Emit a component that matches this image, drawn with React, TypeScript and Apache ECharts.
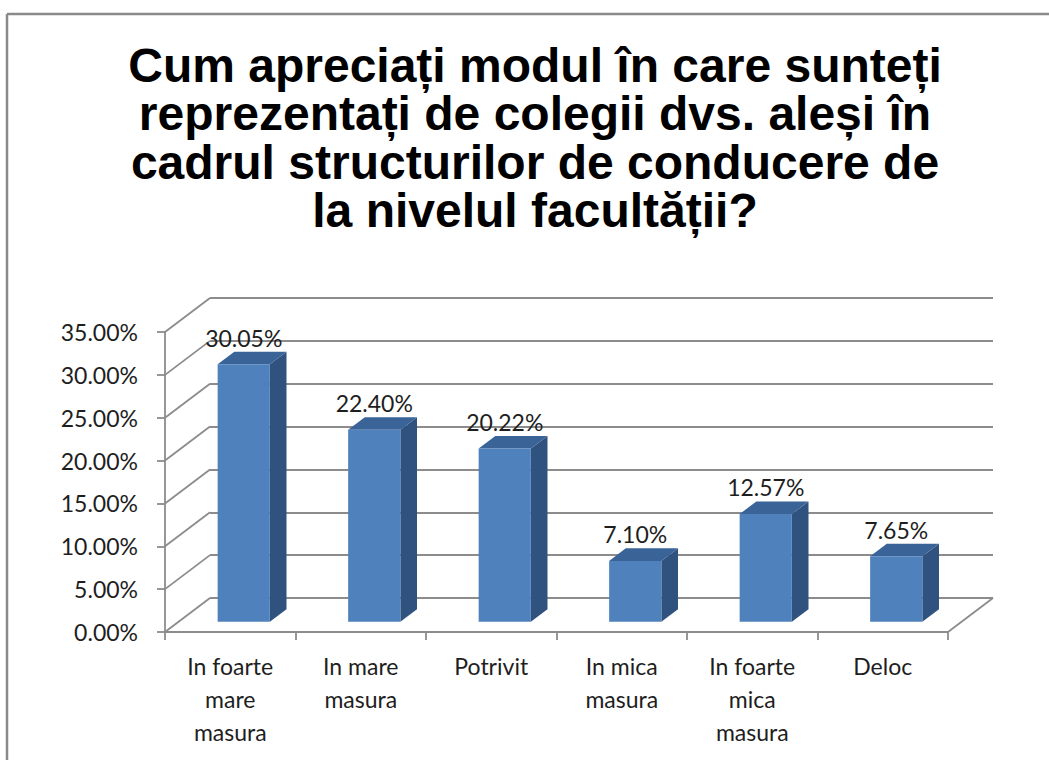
import React, { useEffect, useRef } from "react";
import * as echarts from "echarts";

const titleLines = [
  "Cum apreciați modul în care sunteți",
  "reprezentați de colegii dvs. aleși în",
  "cadrul structurilor de conducere de",
  "la nivelul facultății?",
];
const categories = [
  "In foarte\nmare\nmasura",
  "In mare\nmasura",
  "Potrivit",
  "In mica\nmasura",
  "In foarte\nmica\nmasura",
  "Deloc",
];
const values = [30.05, 22.4, 20.22, 7.1, 12.57, 7.65];
const yTicks = [0, 5, 10, 15, 20, 25, 30, 35];

const DX = 45;
const DY = -34;
const GRID_COLOR = "#8c8c8c";
const TEXT_COLOR = "#1e1e1e";
const LABEL_FONT = "Lato";

export default function App() {
  const ref = useRef<HTMLDivElement>(null);
  useEffect(() => {
    if (!ref.current) return;
    const chart = echarts.init(ref.current, undefined, { renderer: "svg" });
    const option: any = {
      animation: false,
      backgroundColor: "#ffffff",
      grid: [
        { left: 165, top: 332, width: 783, height: 300 },
        { left: 165 + DX, top: 332 + DY, width: 783, height: 300 },
      ],
      xAxis: [
        {
          type: "category",
          gridIndex: 0,
          data: categories,
          boundaryGap: true,
          axisLine: { show: true, lineStyle: { color: GRID_COLOR, width: 1.8 } },
          axisTick: { show: true, length: 8, lineStyle: { color: GRID_COLOR, width: 1.8 } },
          axisLabel: {
            interval: 0,
            margin: 17,
            fontSize: 23,
            lineHeight: 33,
            fontFamily: LABEL_FONT,
            color: TEXT_COLOR,
          },
          splitLine: { show: false },
        },
        {
          type: "category",
          gridIndex: 1,
          data: categories,
          show: false,
        },
      ],
      yAxis: [
        {
          type: "value",
          gridIndex: 0,
          min: 0,
          max: 35,
          interval: 5,
          axisLine: { show: true, lineStyle: { color: GRID_COLOR, width: 1.8 } },
          axisTick: { show: true, length: 8, lineStyle: { color: GRID_COLOR, width: 1.8 } },
          axisLabel: {
            margin: 27,
            fontSize: 23,
            fontFamily: LABEL_FONT,
            color: TEXT_COLOR,
            formatter: (v: number) => v.toFixed(2) + "%",
          },
          splitLine: { show: false },
        },
        {
          type: "value",
          gridIndex: 1,
          min: 0,
          max: 35,
          interval: 5,
          axisLine: { show: false },
          axisTick: { show: false },
          axisLabel: { show: false },
          splitLine: { show: true, lineStyle: { color: GRID_COLOR, width: 1.8 } },
        },
      ],
      graphic: [
        {
          type: "line",
          shape: { x1: 7, y1: 14, x2: 1049, y2: 14 },
          style: { stroke: "#8a8a8a", lineWidth: 2.5 },
        },
        {
          type: "line",
          shape: { x1: 7, y1: 14, x2: 7, y2: 760 },
          style: { stroke: "#8a8a8a", lineWidth: 2.5 },
        },
        {
          type: "text",
          x: 535,
          y: 41,
          style: {
            text: titleLines.join("\n"),
            fontFamily: "Liberation Sans",
            fontWeight: "bold",
            fontSize: 48,
            lineHeight: 48.5,
            align: "center",
            verticalAlign: "top",
            fill: "#000000",
          },
        },
      ],
      series: [
        {
          type: "custom",
          name: "walls",
          xAxisIndex: 0,
          yAxisIndex: 0,
          silent: true,
          clip: false,
          z: 1,
          data: yTicks.map((v) => [0, v]),
          renderItem: (params: any, api: any) => {
            const p = api.coord([0, api.value(1)]);
            const bw = api.size([1, 0])[0];
            const x0 = p[0] - bw / 2;
            const children: any[] = [
              {
                type: "line",
                shape: { x1: x0, y1: p[1], x2: x0 + DX, y2: p[1] + DY },
                style: { stroke: GRID_COLOR, lineWidth: 1.8 },
              },
            ];
            if (params.dataIndex === 0) {
              const q = api.coord([categories.length - 1, 0]);
              const xr = q[0] + bw / 2;
              children.push({
                type: "line",
                shape: { x1: xr, y1: q[1], x2: xr + DX, y2: q[1] + DY },
                style: { stroke: GRID_COLOR, lineWidth: 1.8 },
              });
            }
            return { type: "group", children };
          },
        },
        {
          type: "custom",
          name: "bars",
          xAxisIndex: 0,
          yAxisIndex: 0,
          clip: false,
          z: 3,
          data: values.map((v, i) => [i, v]),
          renderItem: (params: any, api: any) => {
            const i = api.value(0);
            const v = api.value(1);
            const c = api.coord([i, v]);
            const b = api.coord([i, 0]);
            const bw = api.size([1, 0])[0];
            const w = bw * 0.4;
            const fx = DX * 0.3;
            const fy = DY * 0.3;
            const sx = DX * 0.37;
            const sy = DY * 0.37;
            const L = c[0] + fx - w / 2;
            const R = L + w;
            const top = c[1] + fy;
            const bot = b[1] + fy;
            return {
              type: "group",
              children: [
                {
                  type: "polygon",
                  shape: { points: [[R, top], [R + sx, top + sy], [R + sx, bot + sy], [R, bot]] },
                  style: { fill: "#30527f" },
                },
                {
                  type: "polygon",
                  shape: { points: [[L, top], [L + sx, top + sy], [R + sx, top + sy], [R, top]] },
                  style: { fill: "#3a6398" },
                },
                {
                  type: "rect",
                  shape: { x: L, y: top, width: w, height: bot - top },
                  style: { fill: "#4f81bd" },
                },
                {
                  type: "text",
                  x: L + w / 2,
                  y: top + sy - 14,
                  style: {
                    text: v.toFixed(2) + "%",
                    fontFamily: LABEL_FONT,
                    fontSize: 23,
                    fill: TEXT_COLOR,
                    align: "center",
                    verticalAlign: "middle",
                  },
                },
              ],
            };
          },
        },
      ],
    };
    chart.setOption(option);
    return () => chart.dispose();
  }, []);
  return (
    <div
      ref={ref}
      style={{ position: "fixed", left: 0, top: 0, width: 1049, height: 760 }}
    />
  );
}
